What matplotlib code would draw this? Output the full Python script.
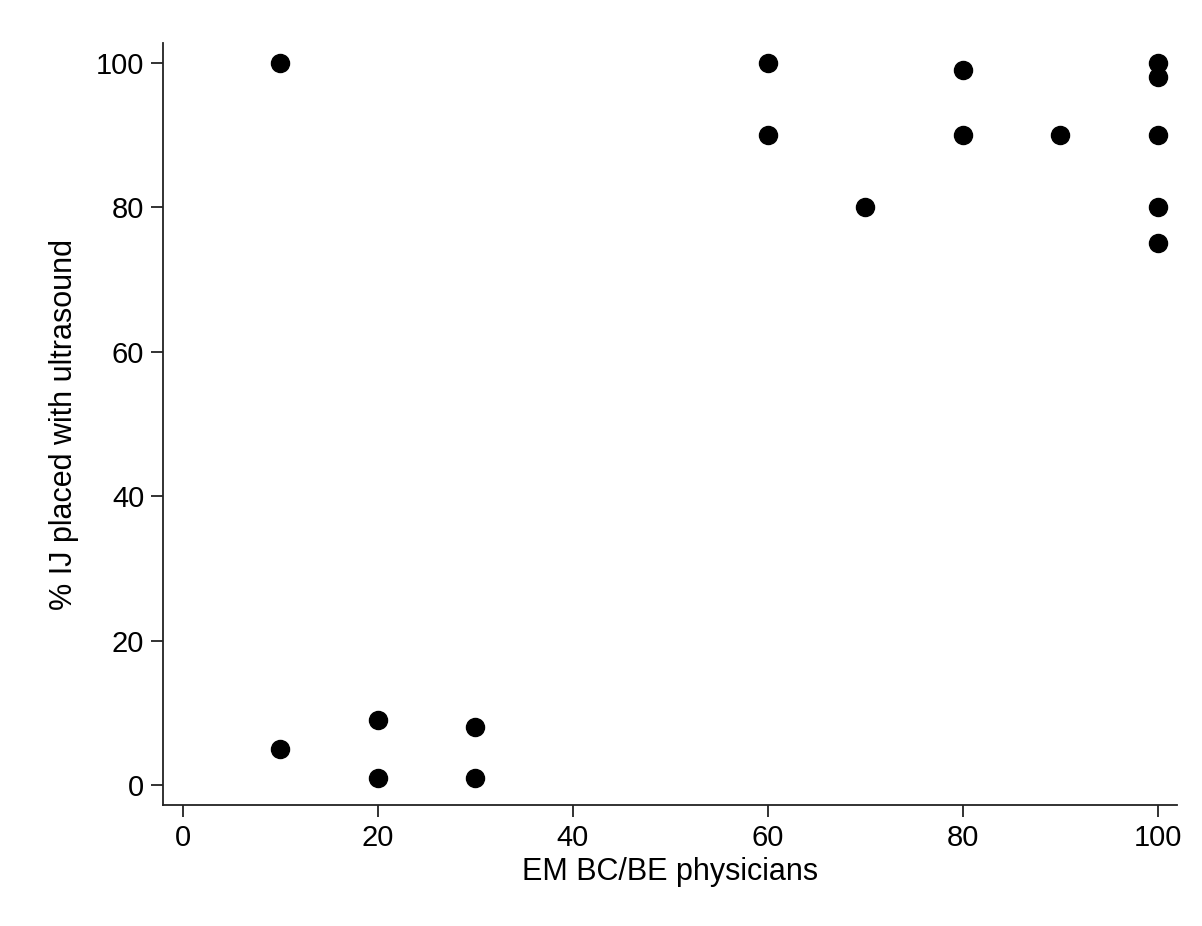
import matplotlib
matplotlib.use("Agg")
import matplotlib.pyplot as plt

plt.rcParams['font.family'] = ['Liberation Sans', 'DejaVu Sans']

em_physicians = [10, 60, 60, 70, 80, 80, 90, 100, 100, 100, 100, 100, 10, 20, 20, 30, 30]
pct_ultrasound = [100, 100, 90, 80, 99, 90, 90, 100, 98, 90, 80, 75, 5, 9, 1, 8, 1]

fig = plt.figure(figsize=(12.02, 9.26), dpi=100)
ax = fig.add_axes([163/1202, 1 - 805/926, (1177-163)/1202, (805-43)/926])

ax.plot(em_physicians, pct_ultrasound, 'o', color='black', markersize=13)

ax.set_xlim(-2.05, 101.95)
ax.set_ylim(-2.77, 102.77)
ax.set_xticks([0, 20, 40, 60, 80, 100])
ax.set_yticks([0, 20, 40, 60, 80, 100])
ax.spines['top'].set_visible(False)
ax.spines['right'].set_visible(False)
for s in ['left', 'bottom']:
    ax.spines[s].set_linewidth(1.3)
    ax.spines[s].set_color('#222222')
ax.tick_params(direction='out', length=8.5, width=1.3, color='#222222', labelsize=21, pad=5)

ax.set_xlabel('EM BC/BE physicians', fontsize=22, labelpad=4)
ax.set_ylabel('% IJ placed with ultrasound', fontsize=22, labelpad=12)

fig.savefig('out.png', dpi=100)
